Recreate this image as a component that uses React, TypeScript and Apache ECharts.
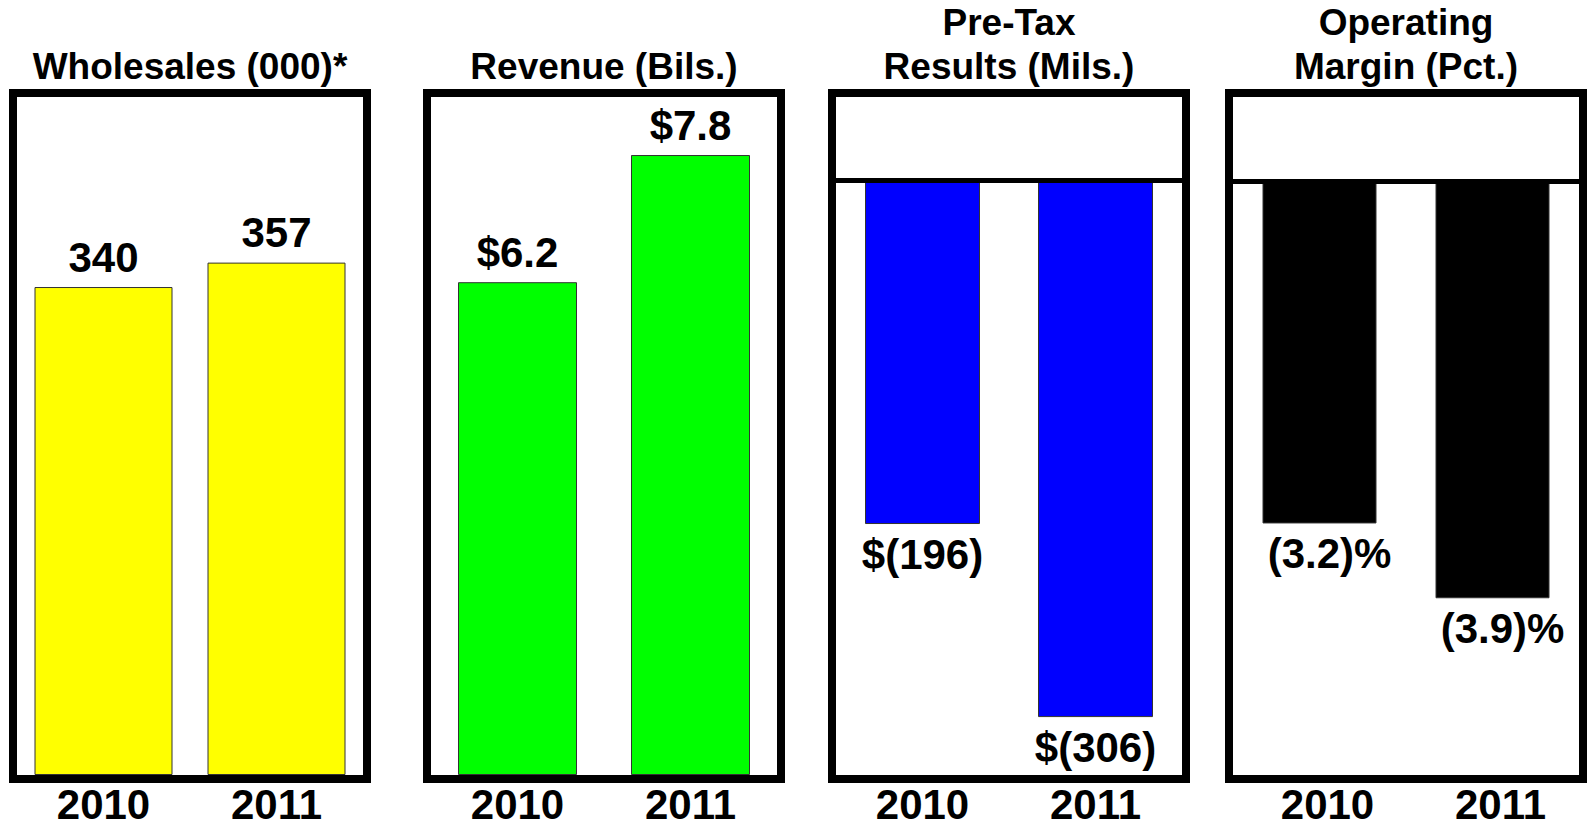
import React, { useEffect, useRef } from "react";
import * as echarts from "echarts";

const years = ["2010", "2011"];
const titles = ["Wholesales (000)*", "Revenue (Bils.)", "Pre-Tax\nResults (Mils.)", "Operating\nMargin (Pct.)"];
const wholesales = [340, 357];
const revenue = [6.2, 7.8];
const pretax = [-196, -306];
const margin = [-3.2, -3.9];

const wholesaleLabels = ["340", "357"];
const revenueLabels = ["$6.2", "$7.8"];
const pretaxLabels = ["$(196)", "$(306)"];
const marginLabels = ["(3.2)%", "(3.9)%"];

const FONT = '"Liberation Sans", Arial, Helvetica, sans-serif';

export default function App() {
  const ref = useRef<HTMLDivElement>(null);
  useEffect(() => {
    document.body.style.margin = "0";
    const chart = echarts.init(ref.current!, null, { renderer: "svg" });

    const panels = [
      { left: 17, barWidth: 138, color: "#ffff00", data: wholesales, labels: wholesaleLabels, min: 0, max: 472.4, pos: "top", zero: false, lx: 0 },
      { left: 431, barWidth: 119, color: "#00ff00", data: revenue, labels: revenueLabels, min: 0, max: 8.53, pos: "top", zero: false, lx: 0 },
      { left: 836, barWidth: 115, color: "#0000ff", data: pretax, labels: pretaxLabels, min: -339, max: 47.3, pos: "bottom", zero: true, lx: 0 },
      { left: 1233, barWidth: 114, color: "#000000", data: margin, labels: marginLabels, min: -5.554, max: 0.791, pos: "bottom", zero: true, lx: 10 },
    ];
    const top = 97;
    const w = 346;
    const h = 678;

    const grid = panels.map((p) => ({ left: p.left, top, width: w, height: h, containLabel: false }));
    const xAxis = panels.map((p, i) => ({
      type: "category",
      gridIndex: i,
      data: years,
      axisLine: { show: false },
      axisTick: { show: false },
      axisLabel: {
        margin: 11,
        color: "#000",
        fontSize: 42,
        lineHeight: 36,
        fontWeight: "bold",
        fontFamily: FONT,
        padding: i === 3 ? [0, 0, 0, 16] : 0,
      },
    }));
    const yAxis = panels.map((p, i) => ({
      type: "value",
      gridIndex: i,
      min: p.min,
      max: p.max,
      show: false,
      splitLine: { show: false },
    }));
    const series = panels.map((p, i) => ({
      type: "bar",
      xAxisIndex: i,
      yAxisIndex: i,
      data: p.data,
      barWidth: p.barWidth,
      itemStyle: { color: p.color, borderColor: "#333", borderWidth: 1 },
      label: {
        show: true,
        position: p.pos,
        distance: 9,
        offset: [p.lx, 0],
        color: "#000",
        fontSize: 42,
        fontWeight: "bold",
        fontFamily: FONT,
        formatter: (params: any) => p.labels[params.dataIndex],
      },
      markLine: p.zero
        ? {
            silent: true,
            symbol: ["none", "none"],
            label: { show: false },
            lineStyle: { color: "#000", width: 5, type: "solid" },
            data: [{ yAxis: 0 }],
            z: 10,
          }
        : undefined,
    }));

    const title = panels.map((p, i) => ({
      text: titles[i],
      left: p.left + w / 2,
      textAlign: "center",
      bottom: 829 - 88,
      padding: 0,
      textStyle: {
        color: "#000",
        fontSize: 37,
        fontWeight: "bold",
        fontFamily: FONT,
        lineHeight: 44,
      },
    }));

    const graphic = panels.map((p) => ({
      type: "rect",
      z: 100,
      silent: true,
      shape: { x: p.left - 4, y: top - 4, width: w + 8, height: h + 8 },
      style: { fill: "none", stroke: "#000", lineWidth: 8 },
    }));

    chart.setOption({
      animation: false,
      backgroundColor: "#fff",
      title,
      grid,
      xAxis,
      yAxis,
      series,
      graphic,
    });
    return () => chart.dispose();
  }, []);
  return <div ref={ref} style={{ position: "fixed", left: 0, top: 0, width: 1589, height: 829 }} />;
}
